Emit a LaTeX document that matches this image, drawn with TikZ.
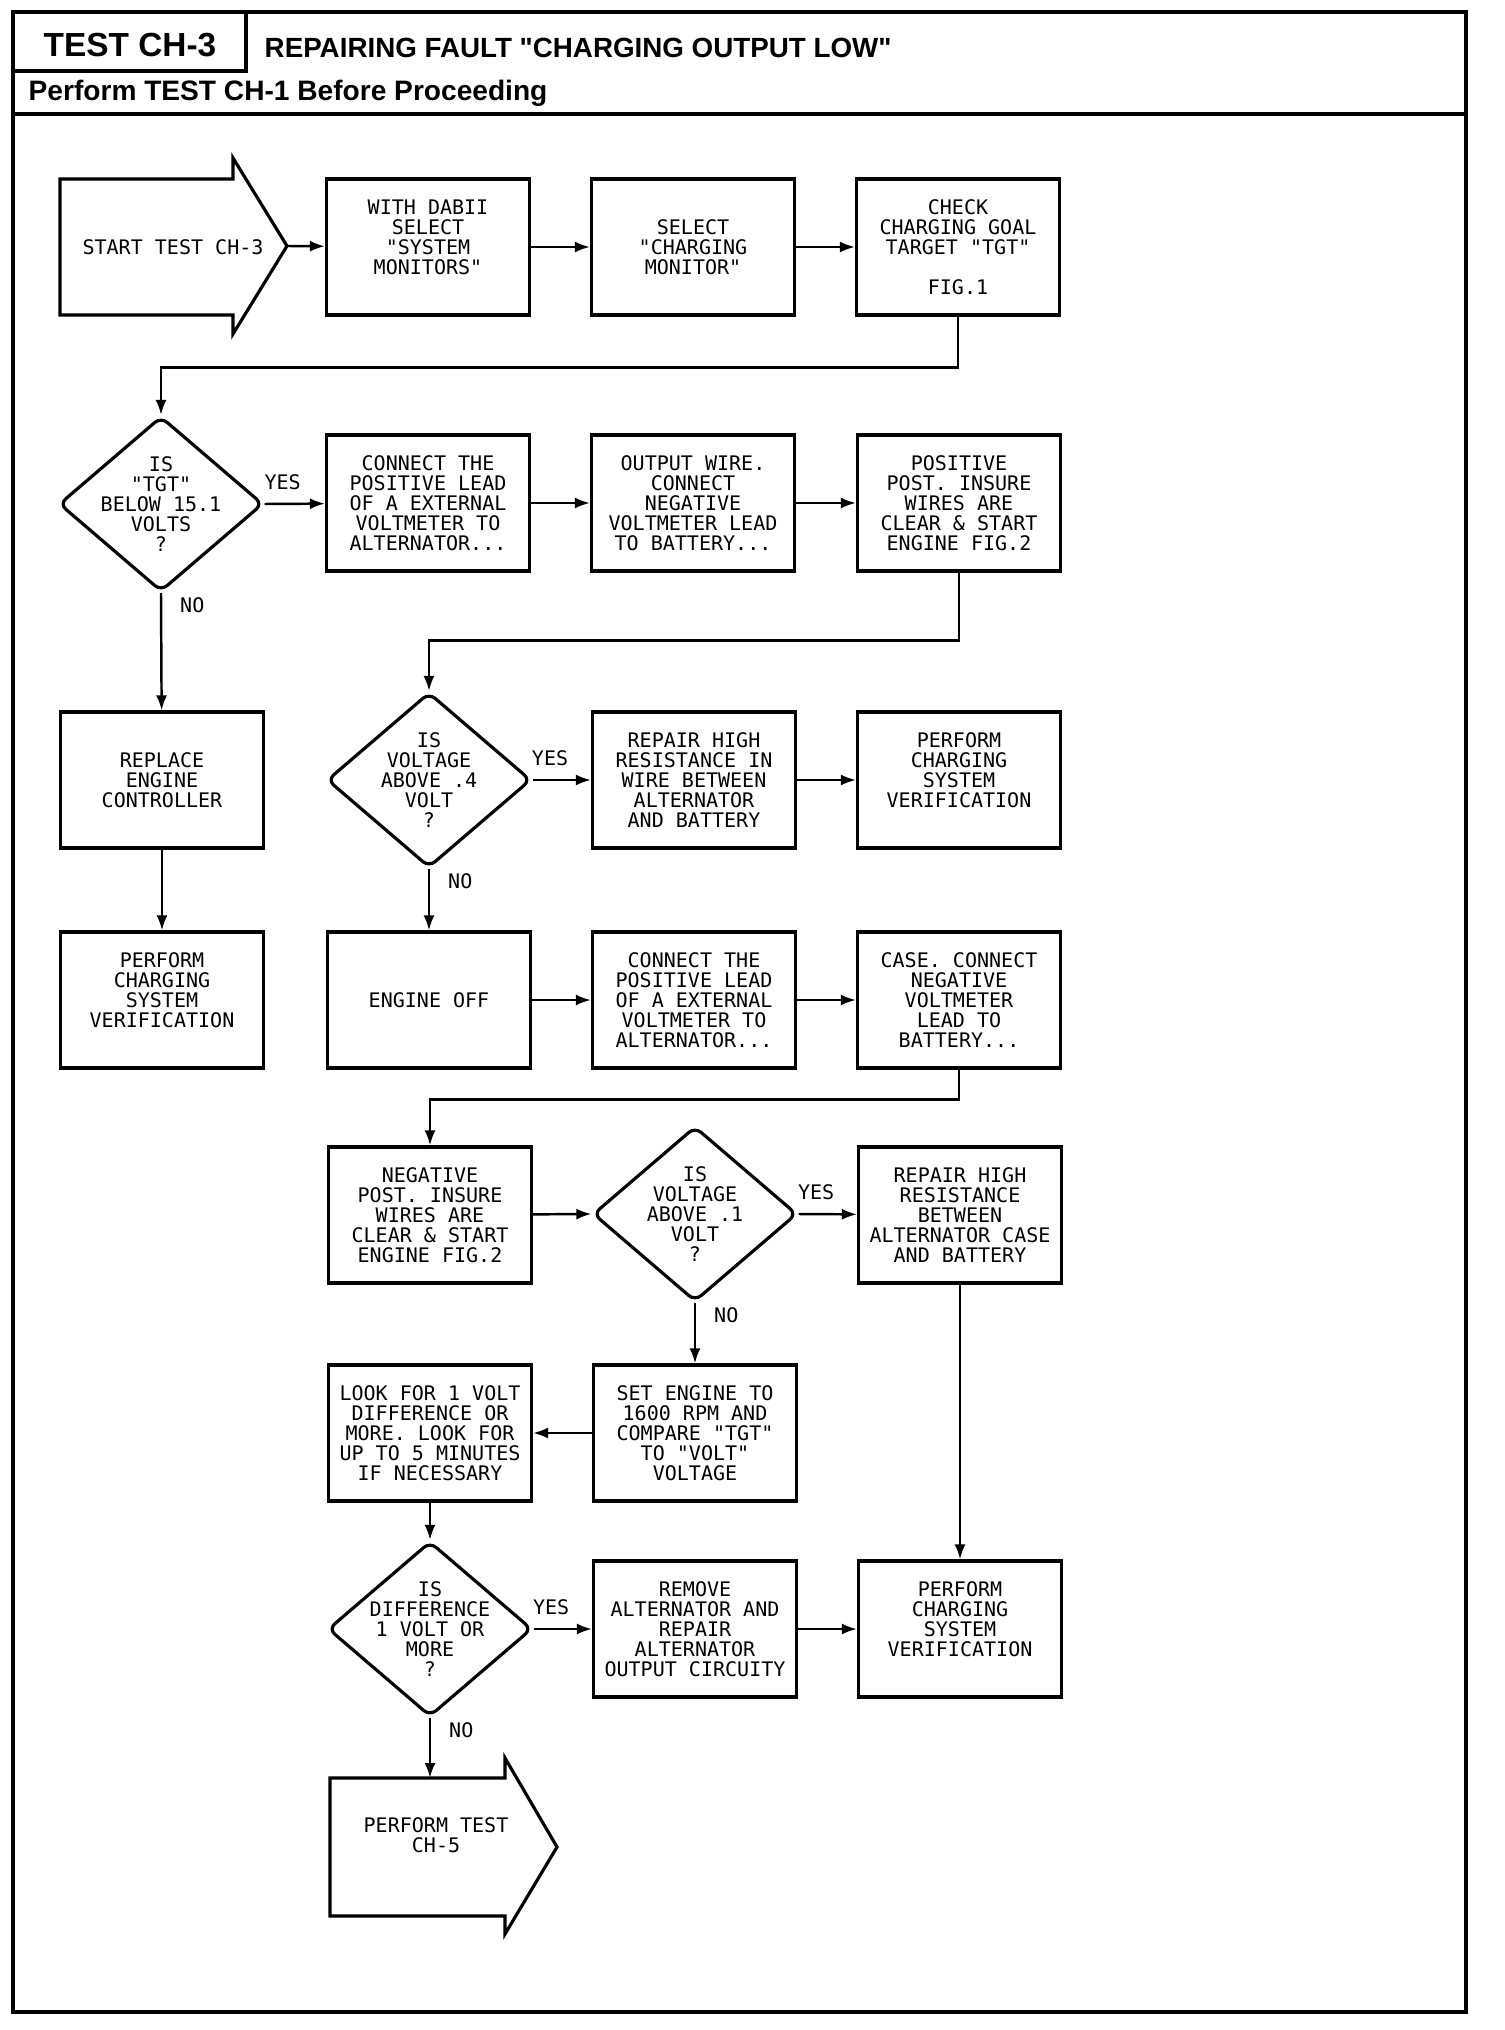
\documentclass[tikz,border=0pt]{standalone}
\usepackage{fontspec}
\newfontfamily\plotfont{DejaVu Sans Mono}
\newfontfamily\headfont{Liberation Sans}
\usetikzlibrary{arrows.meta,shapes.geometric}

\begin{document}
\begin{tikzpicture}[
  every node/.style={inner sep=0pt,align=center,font=\plotfont\fontsize{5.7}{5.7}\selectfont},
  procbox/.style={draw,line width=0.9pt,minimum width=2.03cm,minimum height=1.36cm},
  decision/.style={diamond,draw,line width=0.9pt,minimum width=2.04cm,minimum height=1.75cm,rounded corners=0.8mm},
  outline/.style={line width=0.9pt,line join=miter},
  arr/.style={line width=0.7pt,-{Latex[length=1.5mm,width=1.1mm]}},
  yeslbl/.style={above=1.3mm,pos=.3},
  nolbl/.style={anchor=north west,pos=0,xshift=1.8mm,yshift=-0.3mm},
  head/.style={font=\headfont\bfseries\fontsize{#1}{#1}\selectfont}]

\useasboundingbox (0,0) rectangle (15.04,-20.30);

% frame and header
\draw[line width=1.1pt] (0.13,-0.12) rectangle (14.66,-20.12);
\draw[line width=1pt] (2.46,-0.12) -- (2.46,-0.71) -- (0.13,-0.71);
\draw[line width=1.4pt] (0.13,-1.14) -- (14.66,-1.14);
\node[head=9.5] (testid) at (1.30,-0.45) {TEST CH-3};
\node[head=7.9,anchor=west] (title) at (2.64,-0.48) {REPAIRING FAULT "CHARGING OUTPUT LOW"};
\node[head=8,anchor=west] (before) at (0.28,-0.93) {Perform TEST CH-1 Before Proceeding};

% row 1
\node (start) at (1.73,-2.47) {START TEST CH-3};
\draw[outline] (0.60,-1.79) -- (2.33,-1.79) -- (2.33,-1.58) -- (2.87,-2.46) coordinate (starttip)
  -- (2.33,-3.34) -- (2.33,-3.15) -- (0.60,-3.15) -- cycle;
\node[procbox] (b2) at (4.28,-2.47) {WITH DABII\\SELECT\\"SYSTEM\\MONITORS"\\~};
\node[procbox] (b3) at (6.93,-2.47) {SELECT\\"CHARGING\\MONITOR"};
\node[procbox] (b4) at (9.58,-2.47) {CHECK\\CHARGING GOAL\\TARGET "TGT"\\[0.2cm]FIG.1};

% row 2
\node[decision,label={center:{IS\\"TGT"\\BELOW 15.1\\VOLTS\\?}}] (d1) at (1.61,-5.04) {};
\node[procbox] (b6) at (4.28,-5.03) {CONNECT THE\\POSITIVE LEAD\\OF A EXTERNAL\\VOLTMETER TO\\ALTERNATOR...};
\node[procbox] (b7) at (6.93,-5.03) {OUTPUT WIRE.\\CONNECT\\NEGATIVE\\VOLTMETER LEAD\\TO BATTERY...};
\node[procbox] (b8) at (9.59,-5.03) {POSITIVE\\POST. INSURE\\WIRES ARE\\CLEAR \& START\\ENGINE FIG.2};

% row 3
\node[procbox] (b9) at (1.62,-7.80) {REPLACE\\ENGINE\\CONTROLLER};
\node[decision,label={center:{IS\\VOLTAGE\\ABOVE .4\\VOLT\\?}}] (d2) at (4.29,-7.80) {};
\node[procbox] (b10) at (6.94,-7.80) {REPAIR HIGH\\RESISTANCE IN\\WIRE BETWEEN\\ALTERNATOR\\AND BATTERY};
\node[procbox] (b11) at (9.59,-7.80) {PERFORM\\CHARGING\\SYSTEM\\VERIFICATION\\~};

% row 4
\node[procbox] (b12) at (1.62,-10.00) {PERFORM\\CHARGING\\SYSTEM\\VERIFICATION\\~};
\node[procbox] (b13) at (4.29,-10.00) {ENGINE OFF};
\node[procbox] (b14) at (6.94,-10.00) {CONNECT THE\\POSITIVE LEAD\\OF A EXTERNAL\\VOLTMETER TO\\ALTERNATOR...};
\node[procbox] (b15) at (9.59,-10.00) {CASE. CONNECT\\NEGATIVE\\VOLTMETER\\LEAD TO\\BATTERY...};

% row 5
\node[procbox] (b16) at (4.30,-12.15) {NEGATIVE\\POST. INSURE\\WIRES ARE\\CLEAR \& START\\ENGINE FIG.2};
\node[decision,label={center:{IS\\VOLTAGE\\ABOVE .1\\VOLT\\?}}] (d3) at (6.95,-12.14) {};
\node[procbox] (b17) at (9.60,-12.15) {REPAIR HIGH\\RESISTANCE\\BETWEEN\\ALTERNATOR CASE\\AND BATTERY};

% row 6
\node[procbox] (b18) at (4.30,-14.33) {LOOK FOR 1 VOLT\\DIFFERENCE OR\\MORE. LOOK FOR\\UP TO 5 MINUTES\\IF NECESSARY};
\node[procbox] (b19) at (6.95,-14.33) {SET ENGINE TO\\1600 RPM AND\\COMPARE "TGT"\\TO "VOLT"\\VOLTAGE};

% row 7
\node[decision,label={center:{IS\\DIFFERENCE\\1 VOLT OR\\MORE\\?}}] (d4) at (4.30,-16.29) {};
\node[procbox] (b20) at (6.95,-16.29) {REMOVE\\ALTERNATOR AND\\REPAIR\\ALTERNATOR\\OUTPUT CIRCUITY};
\node[procbox] (b21) at (9.60,-16.29) {PERFORM\\CHARGING\\SYSTEM\\VERIFICATION\\~};

% row 8
\node (finish) at (4.36,-18.35) {PERFORM TEST\\CH-5};
\draw[outline] (3.30,-17.78) -- (4.30,-17.78) coordinate (endtop) -- (5.05,-17.78) -- (5.05,-17.58)
  -- (5.57,-18.47) -- (5.05,-19.34) -- (5.05,-19.16) -- (3.30,-19.16) -- cycle;

% connectors
\draw[arr] (starttip) -- (b2);
\draw[arr] (b2) -- (b3);
\draw[arr] (b3) -- (b4);
\draw[arr] (b4.south) -- ++(0,-0.51) -| (d1.north);
\draw[arr] (d1.east) -- node[yeslbl] {YES} (b6);
\draw[arr] (b6) -- (b7);
\draw[arr] (b7) -- (b8);
\draw[arr] (d1.south) -- node[nolbl] {NO} (b9);
\draw[arr] (b9) -- (b12);
\draw[arr] (b8.south) -- ++(0,-0.68) -| (d2.north);
\draw[arr] (d2.east) -- node[yeslbl] {YES} (b10);
\draw[arr] (b10) -- (b11);
\draw[arr] (d2.south) -- node[nolbl] {NO} (b13);
\draw[arr] (b13) -- (b14);
\draw[arr] (b14) -- (b15);
\draw[arr] (b15.south) -- ++(0,-0.30) -| (b16.north);
\draw[arr] (b16) -- (d3.west);
\draw[arr] (d3.east) -- node[yeslbl] {YES} (b17);
\draw[arr] (d3.south) -- node[nolbl] {NO} (b19);
\draw[arr] (b19) -- (b18);
\draw[arr] (b18) -- (d4.north);
\draw[arr] (b17) -- (b21);
\draw[arr] (d4.east) -- node[yeslbl] {YES} (b20);
\draw[arr] (b20) -- (b21);
\draw[arr] (d4.south) -- node[nolbl] {NO} (endtop);

\end{tikzpicture}
\end{document}
